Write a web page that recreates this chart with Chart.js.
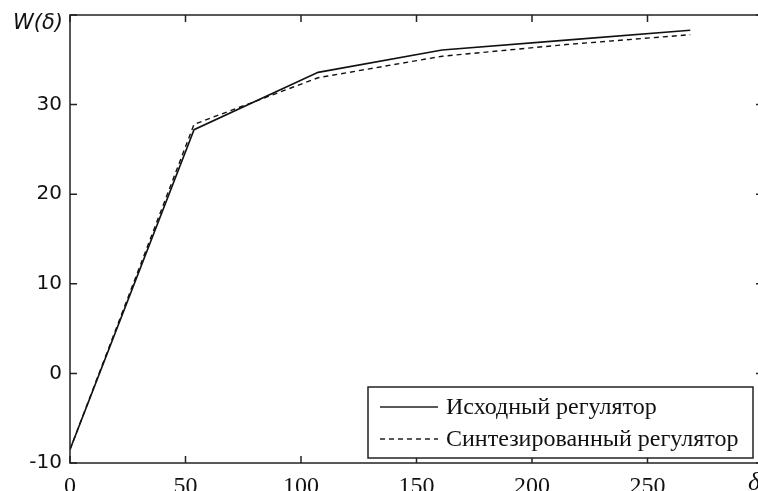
<!DOCTYPE html>
<html>
<head>
<meta charset="utf-8">
<script src="https://cdn.jsdelivr.net/npm/chart.js@4"></script>
<style>
  html, body { margin: 0; padding: 0; background: #fff; overflow: hidden; }
  #wrap { width: 758px; height: 491px; overflow: hidden; }
</style>
</head>
<body>
<div id="wrap"><canvas id="chart1" width="770" height="491"></canvas></div>
<script>
// values
const deltas = [0, 53.7, 107.4, 161.1, 214.8, 268.5];
const original = [-8.5, 27.2, 33.6, 36.1, 37.2, 38.3];
const synthesized = [-8.5, 27.8, 33.0, 35.4, 36.7, 37.8];
const seriesNames = ['Исходный регулятор', 'Синтезированный регулятор'];
const xTicks = [0, 50, 100, 150, 200, 250, 300];
const yTicks = [-10, 0, 10, 20, 30, 40];

const toPoints = ys => deltas.map((d, i) => ({x: d, y: ys[i]}));

// frame, inward ticks, legend box and axis names
const framePlugin = {
  id: 'frame',
  afterDraw(chart) {
    const ctx = chart.ctx;
    const {left, right, top, bottom} = chart.chartArea;
    const xs = chart.scales.x, ys = chart.scales.y;
    ctx.save();
    ctx.strokeStyle = '#222';
    ctx.lineWidth = 1.5;
    ctx.setLineDash([]);
    ctx.strokeRect(left, top, right - left, bottom - top);
    ctx.beginPath();
    xTicks.forEach(v => {
      const px = xs.getPixelForValue(v);
      ctx.moveTo(px, bottom); ctx.lineTo(px, bottom - 7);
      ctx.moveTo(px, top); ctx.lineTo(px, top + 7);
    });
    yTicks.forEach(v => {
      const py = ys.getPixelForValue(v);
      ctx.moveTo(left, py); ctx.lineTo(left + 7, py);
      ctx.moveTo(right, py); ctx.lineTo(right - 7, py);
    });
    ctx.stroke();

    // legend
    const bx = right - 395, by = bottom - 76, bw = 385, bh = 71;
    ctx.fillStyle = '#fff';
    ctx.fillRect(bx, by, bw, bh);
    ctx.lineWidth = 1.5;
    ctx.strokeRect(bx, by, bw, bh);
    ctx.font = '24px "Liberation Serif"';
    ctx.textBaseline = 'middle';
    ctx.fillStyle = '#111';
    chart.data.datasets.forEach((ds, i) => {
      const ly = by + 20 + i * 32;
      ctx.beginPath();
      ctx.lineWidth = 1.3;
      ctx.setLineDash(ds.borderDash || []);
      ctx.moveTo(bx + 12, ly); ctx.lineTo(bx + 70, ly);
      ctx.stroke();
      ctx.setLineDash([]);
      ctx.fillText(ds.label, bx + 78, ly + 1);
    });

    // axis names
    ctx.font = 'italic 21px "DejaVu Sans"';
    ctx.textBaseline = 'middle';
    ctx.textAlign = 'right';
    ctx.fillText('W(δ)', left - 7, top + 9);
    ctx.font = 'italic 26px "Liberation Serif"';
    ctx.textAlign = 'left';
    ctx.fillText('δ', right - 15, bottom + 20);
    ctx.restore();
  }
};

const myChart = new Chart(document.getElementById('chart1'), {
  type: 'scatter',
  data: {
    datasets: [{
      label: seriesNames[0],
      data: toPoints(original),
      showLine: true,
      borderColor: '#111',
      borderWidth: 1.6,
      pointRadius: 0,
      tension: 0
    }, {
      label: seriesNames[1],
      data: toPoints(synthesized),
      showLine: true,
      borderColor: '#111',
      borderWidth: 1.4,
      borderDash: [5, 4],
      pointRadius: 0,
      tension: 0
    }]
  },
  options: {
    responsive: false,
    animation: false,
    layout: { padding: { top: 15, right: 7, left: 0, bottom: 0 } },
    plugins: { legend: { display: false }, tooltip: { enabled: false } },
    scales: {
      x: {
        type: 'linear',
        min: 0, max: 300,
        afterBuildTicks: s => { s.ticks = xTicks.map(v => ({value: v})); },
        afterFit: s => { s.height = 28; s.paddingLeft = 0; s.paddingRight = 0; },
        grid: { display: false, drawTicks: false },
        border: { display: false },
        ticks: {
          padding: 9,
          color: '#111',
          font: { family: '"Liberation Serif"', size: 24 },
          callback: v => (v === 300 ? '' : v)
        }
      },
      y: {
        min: -10, max: 40,
        afterBuildTicks: s => { s.ticks = yTicks.map(v => ({value: v})); },
        afterFit: s => { s.width = 70; s.paddingTop = 0; s.paddingBottom = 0; },
        grid: { display: false, drawTicks: false },
        border: { display: false },
        ticks: {
          padding: 8,
          color: '#111',
          font: { family: '"DejaVu Sans"', size: 20 },
          callback: v => (v === 40 ? '' : v)
        }
      }
    }
  },
  plugins: [framePlugin]
});
</script>
</body>
</html>
